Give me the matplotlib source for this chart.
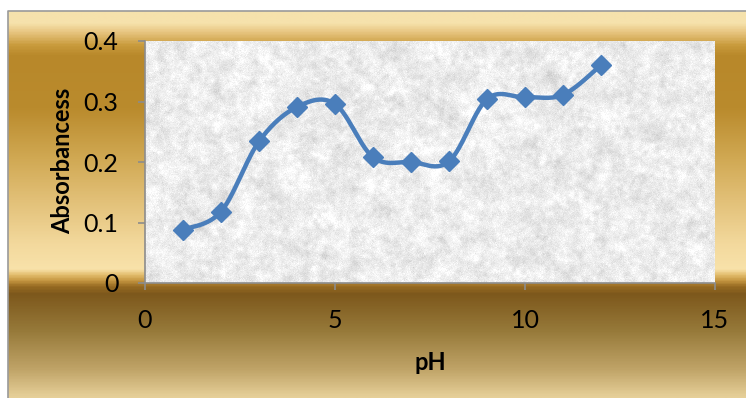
import numpy as np
import matplotlib
matplotlib.use('Agg')
import matplotlib.pyplot as plt
from matplotlib.colors import LinearSegmentedColormap

plt.rcParams['font.family'] = ['Lato', 'DejaVu Sans']

ph = [1, 2, 3, 4, 5, 6, 7, 8, 9, 10, 11, 12]
absorbance = [0.088, 0.118, 0.234, 0.291, 0.296, 0.208, 0.200, 0.201, 0.304, 0.307, 0.311, 0.360]
x_ticks = [0, 5, 10, 15]
y_ticks = [0, 0.1, 0.2, 0.3, 0.4]
y_tick_labels = ['0', '0.1', '0.2', '0.3', '0.4']

W, H = 746, 398
line_blue = '#4a7ebb'


def smooth_curve(xs, ys, n=30):
    # Bezier segments with Catmull-Rom style control points (Excel "smoothed line")
    p = np.column_stack([xs, ys]).astype(float)
    ext = np.vstack([p[0], p, p[-1]])
    out = []
    t = np.linspace(0, 1, n)[:, None]
    for i in range(1, len(ext) - 2):
        p0, p1, p2, p3 = ext[i - 1], ext[i], ext[i + 1], ext[i + 2]
        c1 = p1 + (p2 - p0) / 6
        c2 = p2 - (p3 - p1) / 6
        seg = ((1 - t) ** 3) * p1 + 3 * ((1 - t) ** 2) * t * c1 + 3 * (1 - t) * t ** 2 * c2 + t ** 3 * p2
        out.append(seg)
    out = np.vstack(out)
    return out[:, 0], out[:, 1]


def blur(a, width, passes=2):
    k = np.ones(width) / width
    for _ in range(passes):
        a = np.apply_along_axis(lambda r: np.convolve(r, k, mode='same'), 1, a)
        a = np.apply_along_axis(lambda c: np.convolve(c, k, mode='same'), 0, a)
    return a


fig = plt.figure(figsize=(W / 100, H / 100), dpi=100)

# gold gradient behind everything
bg = fig.add_axes([0, 0, 1, 1])
bg.set_xlim(0, W)
bg.set_ylim(H, 0)
bg.axis('off')
stops = [
    (11, '#f6e2ac'), (20, '#e8c682'), (34, '#c99b3c'), (45, '#b8882a'),
    (100, '#ba8b2d'), (150, '#d0a852'), (200, '#e4c37c'), (240, '#f3d99d'),
    (266, '#f8e2aa'), (272, '#e2bc6c'), (278, '#c49540'), (284, '#966a22'),
    (292, '#7d581c'), (330, '#977a3a'), (370, '#c0a468'), (398, '#e6cf98'),
]
ys_px = np.arange(H)
cmap = LinearSegmentedColormap.from_list(
    'gold', [((y - 11) / (398 - 11), c) for y, c in stops])
grad = np.clip((ys_px - 11) / (398 - 11), 0, 1)[:, None] * np.ones((1, 2))
bg.imshow(grad, cmap=cmap, aspect='auto', extent=[8, W, 398, 11], interpolation='bilinear')
bg.plot([8, 8, W], [H, 11, 11], color='#9a9a9a', lw=1.2)

ax = fig.add_axes([145 / W, (H - 283) / H, 570 / W, 242 / H])

# granite texture for the plot area
rng = np.random.default_rng(7)
small = blur(rng.normal(size=(242, 570)), 4)
large = blur(rng.normal(size=(242, 570)), 12)
fine = rng.normal(size=(242, 570))
tex = 0.925 + 0.11 * small + 0.35 * large + 0.02 * fine
ax.imshow(tex, cmap='gray', vmin=0, vmax=1, aspect='auto',
          extent=[0, 15, 0, 0.4], interpolation='bilinear', zorder=0)

sx, sy = smooth_curve(ph, absorbance)
ax.plot(sx, sy, color=line_blue, lw=3.2, solid_capstyle='round', zorder=3)
ax.plot(ph, absorbance, ls='none', marker='D', ms=10, color=line_blue, zorder=4)

ax.set_xlim(0, 15)
ax.set_ylim(0, 0.4)
ax.set_xticks(x_ticks)
ax.set_yticks(y_ticks)
ax.set_yticklabels(y_tick_labels)
for s in ['top', 'right']:
    ax.spines[s].set_visible(False)
for s in ['left', 'bottom']:
    ax.spines[s].set_color('#8c8c8c')
    ax.spines[s].set_linewidth(1.2)
ax.tick_params(axis='both', colors='#8c8c8c', length=5, width=1.2, labelcolor='black', labelsize=18)
ax.tick_params(axis='y', pad=14)
ax.tick_params(axis='x', pad=14)

ax.set_xlabel('pH', fontsize=17, fontweight='bold')
ax.set_ylabel('Absorbancess', fontsize=17, fontweight='bold')
ax.xaxis.set_label_coords(0.5, -0.28)
ax.yaxis.set_label_coords(-0.124, 0.505)

fig.savefig('out.png', dpi=100)
